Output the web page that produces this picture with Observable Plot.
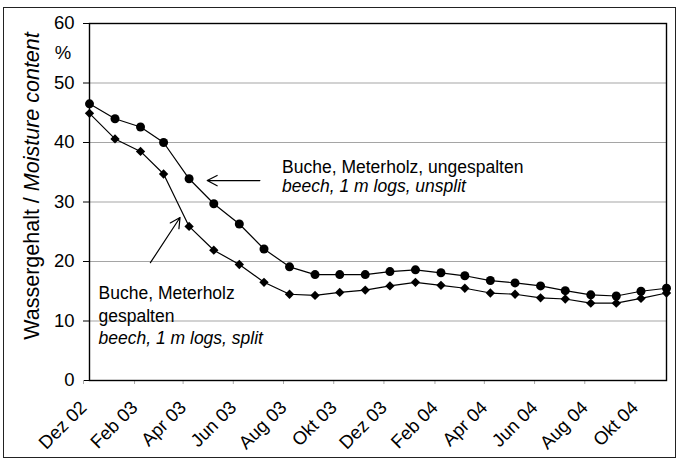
<!DOCTYPE html>
<html><head><meta charset="utf-8">
<script src="https://cdn.jsdelivr.net/npm/d3@7"></script>
<script src="https://cdn.jsdelivr.net/npm/@observablehq/plot@0.6"></script>
<style>
body{margin:0;background:#fff;}
#wrap{position:relative;width:678px;height:461px;overflow:hidden;}
#border{position:absolute;left:3px;top:7px;width:671px;height:449px;border:1.5px solid #222;pointer-events:none;}
</style>
</head><body><div id="wrap"><div id="border"></div></div>
<script>
const months = ["2002-12","2003-01","2003-02","2003-03","2003-04","2003-05","2003-06","2003-07","2003-08","2003-09","2003-10","2003-11","2003-12","2004-01","2004-02","2004-03","2004-04","2004-05","2004-06","2004-07","2004-08","2004-09","2004-10","2004-11"];
const unsplit = [46.5,44.0,42.6,40.0,33.9,29.7,26.3,22.1,19.1,17.8,17.8,17.8,18.3,18.6,18.1,17.6,16.8,16.4,15.9,15.1,14.4,14.2,15.0,15.5];
const split = [44.9,40.6,38.5,34.7,25.9,21.9,19.5,16.5,14.5,14.3,14.8,15.2,15.9,16.5,16.0,15.5,14.7,14.5,13.9,13.7,13.0,13.0,13.8,14.7];
const tickMonths = ["2002-12","2003-02","2003-04","2003-06","2003-08","2003-10","2003-12","2004-02","2004-04","2004-06","2004-08","2004-10"];
const tickLabels = ["Dez 02","Feb 03","Apr 03","Jun 03","Aug 03","Okt 03","Dez 03","Feb 04","Apr 04","Jun 04","Aug 04","Okt 04"];
const yTicks = [0,10,20,30,40,50,60];
const yLabelPlain = "Wassergehalt / ";
const yLabelItalic = "Moisture content";
const unitLabel = "%";

// annotations (data coordinates)
const labelTexts = [
  {text:"Buche, Meterholz, ungespalten", date:"2003-07-23", v:35.8, italic:false},
  {text:"beech, 1 m logs, unsplit", date:"2003-07-23", v:32.7, italic:true},
  {text:"Buche, Meterholz", date:"2002-12-12", v:14.7, italic:false},
  {text:"gespalten", date:"2002-12-12", v:10.8, italic:false},
  {text:"beech, 1 m logs, split", date:"2002-12-12", v:7.0, italic:true}
];
const arrowsData = [
  {from:"2003-06-26", v1:33.6, to:"2003-04-23", v2:33.6},
  {from:"2003-02-13", v1:19.8, to:"2003-03-21", v2:27.4}
];

const pm = d3.utcParse("%Y-%m");
const pd = d3.utcParse("%Y-%m-%d");
const dates = months.map(pm);
const rowsU = dates.map((d,i)=>({date:d, value:unsplit[i]}));
const rowsS = dates.map((d,i)=>({date:d, value:split[i]}));
const tickDates = tickMonths.map(pm);
const fmt = d => tickLabels[tickDates.findIndex(t => +t === +d)];
const labs = labelTexts.map(l => ({...l, d: pd(l.date)}));
const arrs = arrowsData.map(a => ({x1: pd(a.from), y1:a.v1, x2: pd(a.to), y2:a.v2}));

const font = "Liberation Sans, Arial, Helvetica, sans-serif";
const chart = Plot.plot({
  width: 678, height: 461,
  marginLeft: 89, marginRight: 12, marginTop: 23, marginBottom: 81,
  style: {fontFamily: font, fontSize: "18px", color: "#000", background: "transparent", overflow: "visible"},
  x: {type: "utc", domain: [dates[0], dates[dates.length-1]]},
  y: {domain: [0, 60]},
  marks: [
    Plot.gridY(yTicks.filter(v => v > 0 && v < 60), {stroke: "#a5a5a5", strokeOpacity: 1, strokeWidth: 1}),
    Plot.axisY({ticks: yTicks, tickSize: 6, tickPadding: 9, label: null, fontSize: 18.5, stroke: "#000"}),
    Plot.axisX({ticks: tickDates, tickFormat: fmt, tickRotate: -45, tickSize: 4, tickPadding: 20, dx: -6, label: null, fontSize: 18.5, stroke: "#aaa"}),
    Plot.frame({stroke: "#000", strokeWidth: 1.4}),
    Plot.line(rowsU, {x: "date", y: "value", stroke: "#000", strokeWidth: 1.2}),
    Plot.line(rowsS, {x: "date", y: "value", stroke: "#000", strokeWidth: 1.2}),
    Plot.dot(rowsU, {x: "date", y: "value", r: 4.5, fill: "#000", stroke: null, symbol: "circle"}),
    Plot.dot(rowsS, {x: "date", y: "value", r: 4.2, fill: "#000", stroke: null, symbol: "diamond2"}),
    Plot.arrow(arrs, {x1: "x1", y1: "y1", x2: "x2", y2: "y2", stroke: "#000", strokeWidth: 1.2, headLength: 14, headAngle: 55}),
    Plot.text(labs.filter(l => !l.italic), {x: "d", y: "v", text: "text", textAnchor: "start", lineAnchor: "middle", fontSize: 17.5, fill: "#000"}),
    Plot.text(labs.filter(l => l.italic), {x: "d", y: "v", text: "text", textAnchor: "start", lineAnchor: "middle", fontSize: 17.5, fill: "#000", fontStyle: "italic"})
  ]
});
document.getElementById("wrap").prepend(chart);
chart.style.position = "absolute"; chart.style.left = "0"; chart.style.top = "0";

const svg = d3.select(chart);
const t = svg.append("text")
  .attr("transform", "translate(31,186) rotate(-90)")
  .attr("text-anchor", "middle").attr("dy", "0.35em")
  .attr("font-family", font).attr("font-size", 21.5).attr("fill", "#000");
t.append("tspan").text(yLabelPlain);
t.append("tspan").attr("font-style", "italic").text(yLabelItalic);
svg.append("text").attr("x", 63).attr("y", 53).attr("dy", "0.35em")
  .attr("text-anchor", "middle").attr("font-family", font).attr("font-size", 18.5).attr("fill", "#000").text(unitLabel);
</script>
</body></html>
